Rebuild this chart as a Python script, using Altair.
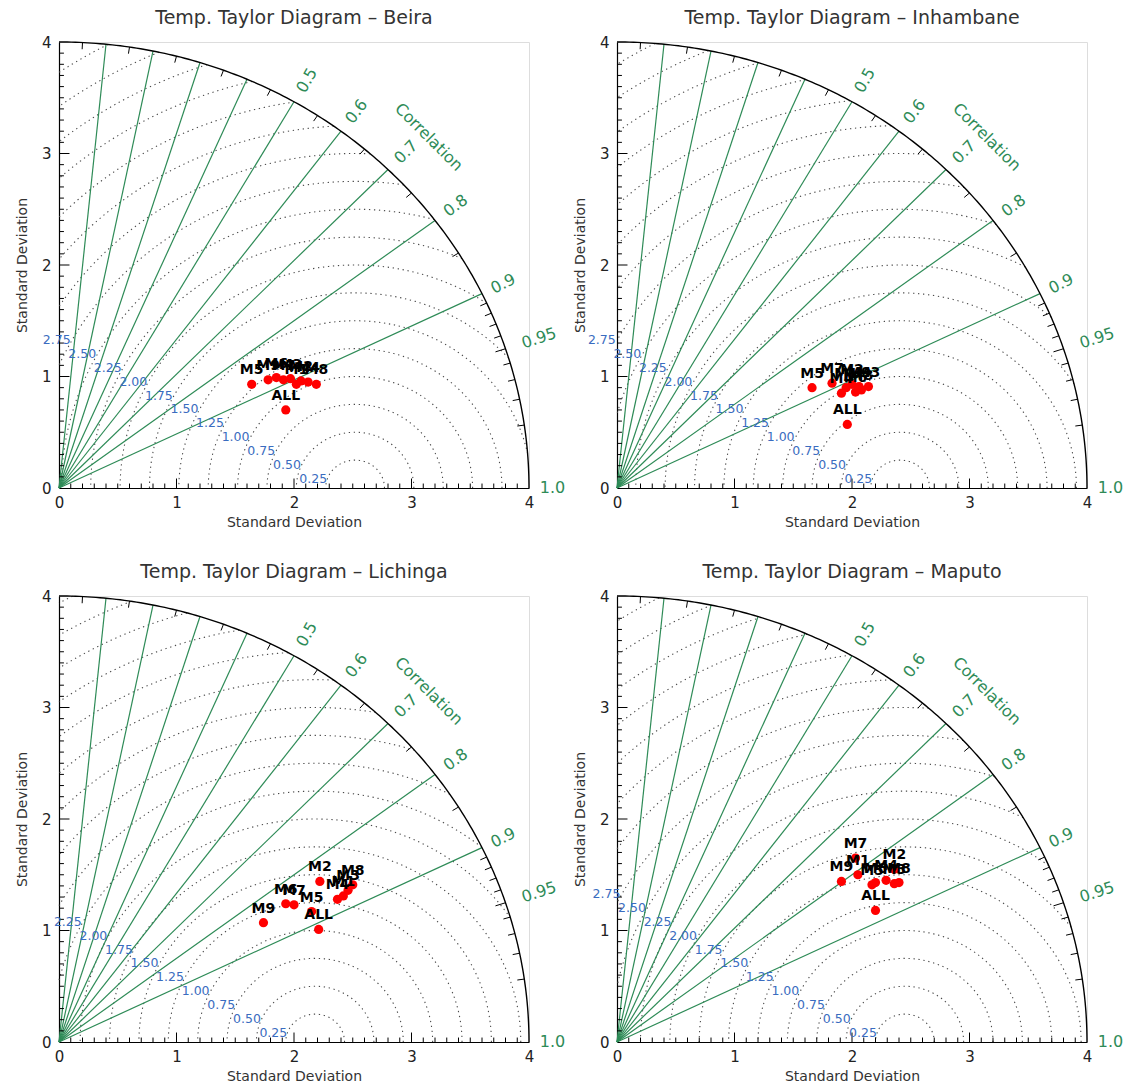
import altair as alt
import numpy as np
import pandas as pd

# ---------------- data ----------------
stations = ["Beira", "Inhambane", "Lichinga", "Maputo"]
ref_std = [2.52, 2.41, 2.18, 2.45]          # reference (observed) std per station
rms_label_max = [2.75, 2.75, 2.25, 2.75]    # largest RMS contour that is labelled
model_names = ["M1", "M2", "M3", "M4", "M5", "M6", "M7", "M8", "M9", "ALL"]

beira_x = [2.02, 2.06, 1.97, 2.12, 1.64, 1.85, 1.91, 2.19, 1.78, 1.93]
beira_y = [0.93, 0.96, 0.98, 0.95, 0.93, 0.99, 0.97, 0.93, 0.97, 0.70]
inhambane_x = [1.95, 2.00, 2.14, 1.91, 1.66, 2.03, 1.83, 2.08, 2.06, 1.96]
inhambane_y = [0.90, 0.93, 0.91, 0.85, 0.90, 0.86, 0.94, 0.88, 0.91, 0.57]
lichinga_x = [2.42, 2.22, 2.46, 2.37, 2.15, 1.93, 2.00, 2.50, 1.74, 2.21]
lichinga_y = [1.31, 1.44, 1.36, 1.28, 1.17, 1.24, 1.23, 1.41, 1.07, 1.01]
maputo_x = [2.05, 2.36, 2.36, 2.29, 2.17, 2.20, 2.03, 2.40, 1.91, 2.20]
maputo_y = [1.50, 1.55, 1.42, 1.45, 1.41, 1.43, 1.65, 1.43, 1.44, 1.18]

station_x = [beira_x, inhambane_x, lichinga_x, maputo_x]
station_y = [beira_y, inhambane_y, lichinga_y, maputo_y]

corr_lines = [0.1, 0.2, 0.3, 0.4, 0.5, 0.6, 0.7, 0.8, 0.9]
corr_labels = [0.5, 0.6, 0.7, 0.8, 0.9, 0.95, 1.0]
corr_label_text = ["0.5", "0.6", "0.7", "0.8", "0.9", "0.95", "1.0"]
corr_label_radius = [4.22, 4.22, 4.22, 4.22, 4.2, 4.3, 4.2]
corr_minor_ticks = [0.05, 0.15, 0.25, 0.35, 0.45, 0.55, 0.65, 0.75, 0.85,
                    0.91, 0.92, 0.93, 0.94, 0.95, 0.96, 0.97, 0.98, 0.99]
rms_levels = [0.25 * k for k in range(1, 20)]
axis_ticks = [0, 1, 2, 3, 4]

GREEN = "#2e8b57"
BLUE = "#3a6cc0"
FONT = "DejaVu Sans"
RMAX = 4.0

xs = alt.Scale(domain=[0, 4], nice=False, zero=True)
ys = alt.Scale(domain=[0, 4], nice=False, zero=True)

x_axis = alt.Axis(values=axis_ticks, ticks=False, grid=False, domainColor="black",
                  domainWidth=1.2, labelFontSize=15, labelColor="#222", labelPadding=7,
                  labelFlush=False, format="d", title="Standard Deviation",
                  titleFontSize=14, titleFontWeight="normal", titleColor="#333",
                  titlePadding=5, labelFont=FONT, titleFont=FONT)
y_axis = alt.Axis(values=axis_ticks, ticks=False, grid=False, domainColor="black",
                  domainWidth=1.2, labelFontSize=15, labelColor="#222", labelPadding=8,
                  labelFlush=False, format="d", title="Standard Deviation",
                  titleFontSize=14, titleFontWeight="normal", titleColor="#333",
                  titlePadding=12, labelFont=FONT, titleFont=FONT)


def X(f):
    return alt.X(f, type="quantitative", scale=xs, axis=x_axis)


def Y(f):
    return alt.Y(f, type="quantitative", scale=ys, axis=y_axis)


def panel(name, c, rmax_lab, px, py):
    # outer arc
    th = np.linspace(0, np.pi / 2, 181)
    outer = pd.DataFrame({"x": RMAX * np.cos(th), "y": RMAX * np.sin(th), "o": np.arange(th.size)})
    outer_l = alt.Chart(outer).mark_line(color="black", strokeWidth=1.4).encode(
        x=X("x"), y=Y("y"), order="o:Q")

    # correlation rays
    ang = np.arccos(np.array(corr_lines))
    rays = pd.DataFrame({"x": 0.0, "y": 0.0, "x2": RMAX * np.cos(ang), "y2": RMAX * np.sin(ang)})
    rays_l = alt.Chart(rays).mark_rule(color=GREEN, strokeWidth=1.2).encode(
        x=X("x"), y=Y("y"), x2="x2:Q", y2="y2:Q")

    # arc ticks
    ta = np.arccos(np.array(corr_minor_ticks))
    tl = np.where(np.isclose(np.array(corr_minor_ticks), 0.95), 0.09, 0.06)
    ticks = pd.DataFrame({"x": RMAX * np.cos(ta), "y": RMAX * np.sin(ta),
                          "x2": (RMAX - tl) * np.cos(ta), "y2": (RMAX - tl) * np.sin(ta)})
    ticks_l = alt.Chart(ticks).mark_rule(color="black", strokeWidth=1).encode(
        x=X("x"), y=Y("y"), x2="x2:Q", y2="y2:Q")

    # axis inner ticks
    vals = np.round(np.arange(0.1, 4.0, 0.1), 2)
    tlen = np.where(np.isclose(vals % 1, 0) | np.isclose(vals % 1, 1), 0.085, 0.04)
    xt = pd.DataFrame({"x": vals, "y": 0.0, "x2": vals, "y2": tlen})
    yt = pd.DataFrame({"x": 0.0, "y": vals, "x2": tlen * 1.05, "y2": vals})
    xt_l = alt.Chart(xt).mark_rule(color="black", strokeWidth=1).encode(
        x=X("x"), y=Y("y"), x2="x2:Q", y2="y2:Q")
    yt_l = alt.Chart(yt).mark_rule(color="black", strokeWidth=1).encode(
        x=X("x"), y=Y("y"), x2="x2:Q", y2="y2:Q")

    # RMS dotted arcs
    rows = []
    for r in rms_levels:
        cphi0 = np.clip((RMAX ** 2 - c ** 2 - r ** 2) / (2 * c * r), -1, 1)
        cphi1 = np.clip(-c / r, -1, 1)
        p0, p1 = np.arccos(cphi0), np.arccos(cphi1)
        if p1 <= p0:
            continue
        phi = np.linspace(p0, p1, 160)
        for i, p in enumerate(phi):
            rows.append({"x": c + r * np.cos(p), "y": r * np.sin(p), "r": r, "o": i})
    arcs = pd.DataFrame(rows)
    arcs_l = alt.Chart(arcs).mark_line(color="#4a4a4a", strokeWidth=1.1,
                                       strokeDash=[1.3, 3.7]).encode(
        x=X("x"), y=Y("y"), detail="r:N", order="o:Q")

    # RMS labels along a line from (c-0.17, 0) at ~150 deg
    al = np.deg2rad(29.7)
    lab_rows = []
    for r in rms_levels:
        if r > rmax_lab + 1e-9:
            continue
        b = 0.34 * np.cos(al)
        t = (-b + np.sqrt(b * b - 4 * (0.0289 - r * r))) / 2
        lab_rows.append({"x": c - 0.17 - t * np.cos(al), "y": t * np.sin(al), "t": f"{r:.2f}"})
    rlab = pd.DataFrame(lab_rows)
    rlab_l = alt.Chart(rlab).mark_text(color=BLUE, fontSize=12.5, align="right",
                                       baseline="middle", dx=1, dy=-4, font=FONT).encode(
        x=X("x"), y=Y("y"), text="t:N")

    # correlation labels
    ca = np.arccos(np.array(corr_labels))
    rr = np.array(corr_label_radius)
    cl = pd.DataFrame({"x": rr * np.cos(ca), "y": rr * np.sin(ca),
                       "t": corr_label_text, "a": (360 - np.rad2deg(ca)) % 360})
    cl_l = alt.Chart(cl).mark_text(color=GREEN, fontSize=16, align="center",
                                   baseline="middle", font=FONT).encode(
        x=X("x"), y=Y("y"), text="t:N", angle=alt.Angle("a:Q", scale=None))
    ct = pd.DataFrame({"x": [4.45 * np.cos(np.pi / 4)], "y": [4.45 * np.sin(np.pi / 4)],
                       "t": ["Correlation"]})
    ct_l = alt.Chart(ct).mark_text(color=GREEN, fontSize=16, align="center",
                                   baseline="middle", angle=45, font=FONT).encode(
        x=X("x"), y=Y("y"), text="t:N")

    # model points
    pts = pd.DataFrame({"x": px, "y": py, "m": model_names})
    pts_l = alt.Chart(pts).mark_circle(color="#ff0000", size=85, opacity=1).encode(
        x=X("x"), y=Y("y"))
    ptl_l = alt.Chart(pts).mark_text(color="black", fontSize=14, fontWeight="bold",
                                     dy=-14, font=FONT).encode(
        x=X("x"), y=Y("y"), text="m:N")

    return alt.layer(arcs_l, rays_l, outer_l, ticks_l, xt_l, yt_l, rlab_l, cl_l, ct_l,
                     pts_l, ptl_l).properties(
        width=470, height=446,
        title=alt.TitleParams(f"Temp. Taylor Diagram – {name}", fontSize=19,
                              fontWeight="normal", color="#333", offset=7, font=FONT))


panels = [panel(s, c, m, px, py) for s, c, m, px, py in
          zip(stations, ref_std, rms_label_max, station_x, station_y)]

chart = alt.concat(*panels, columns=2, spacing={"row": 108, "column": 88},
                   bounds="flush").properties(
    padding={"left": 14, "top": 8, "right": 2, "bottom": 2}
).configure_view(stroke=None).configure(font=FONT)

chart.save("out.html", embed_options={"renderer": "svg", "actions": False})
